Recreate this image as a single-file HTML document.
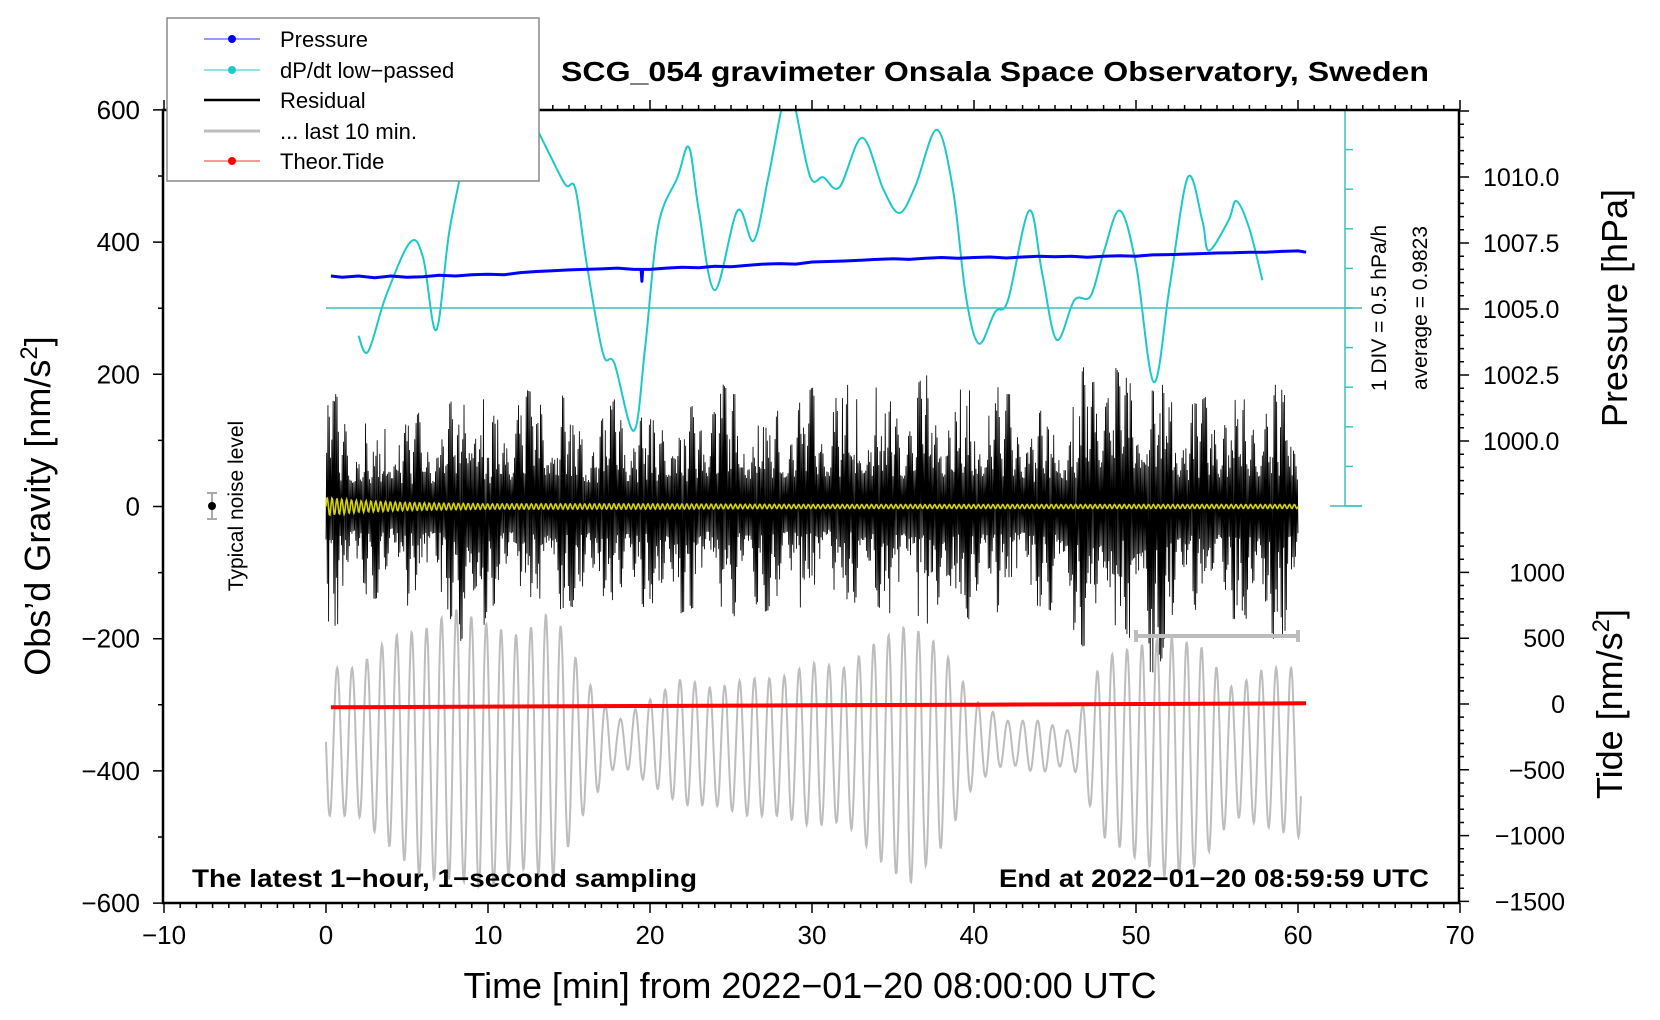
<!DOCTYPE html>
<html><head><meta charset="utf-8"><style>
html,body{margin:0;padding:0;background:#fff;}
svg{display:block;font-family:"Liberation Sans",sans-serif;}
</style></head><body>
<svg id="chart" width="1660" height="1020" viewBox="0 0 1660 1020" xmlns="http://www.w3.org/2000/svg">
<defs><clipPath id="plotclip"><rect x="163" y="110" width="1296" height="793"/></clipPath></defs>
<rect x="0" y="0" width="1660" height="1020" fill="#fff"/>
<g id="series" clip-path="url(#plotclip)"></g>
<g id="axes"></g>
<g id="labels"></g>
</svg>
<script>
// ---- data ----
var gridMinutes = [0,2,4,6,8,10,12,14,16,18,20,22,24,26,28,30,32,34,36,38,40,42,44,46,48,50,52,54,56,58,60];
var grayTop = [-244,-244,-196,-187,-155,-179,-196,-155,-260,-324,-292,-260,-276,-260,-260,-236,-244,-204,-179,-212,-292,-324,-324,-340,-228,-212,-196,-212,-276,-244,-244];
var grayBottom = [-468,-468,-516,-564,-564,-580,-548,-564,-460,-388,-420,-452,-452,-468,-468,-484,-476,-532,-572,-516,-420,-388,-404,-388,-500,-532,-564,-540,-468,-484,-500];
var residMinutes = [0,1,2,3,4,5,6,7,8,9,10,11,12,13,14,15,16,17,18,19,20,21,22,23,24,25,26,27,28,29,30,31,32,33,34,35,36,37,38,39,40,41,42,43,44,45,46,47,48,49,50,51,52,53,54,55,56,57,58,59,60];
var residUpper = [200,150,130,120,170,120,150,130,170,270,130,150,180,170,190,170,150,130,170,140,130,180,140,160,200,170,170,150,170,150,180,170,180,200,180,170,170,200,180,190,170,190,170,170,140,180,150,230,240,200,230,190,240,150,160,180,160,170,190,180,150];
var residLower = [-200,-170,-130,-140,-130,-150,-150,-150,-180,-270,-150,-150,-150,-160,-160,-150,-160,-160,-150,-170,-140,-180,-160,-150,-150,-170,-150,-160,-150,-150,-160,-140,-140,-170,-150,-170,-160,-170,-230,-150,-180,-160,-160,-150,-150,-160,-190,-220,-240,-200,-230,-260,-210,-170,-150,-170,-170,-170,-200,-200,-160];
var dpdtMinutes = [2.0,2.6,3.7,5.2,6.0,6.8,7.6,8.5,9.3,10.5,11.5,12.5,13.9,14.8,15.4,16.1,17.1,17.8,19.0,19.7,20.5,21.7,22.4,23.0,24.0,25.4,26.4,27.3,28.1,28.6,29.0,29.9,30.7,31.7,33.1,34.4,35.4,36.4,37.7,38.7,39.5,40.3,41.3,42.1,43.4,44.2,45.1,46.2,47.2,48.0,49.0,50.0,51.1,52.1,53.2,54.1,54.5,55.7,56.2,57.0,57.8];
var dpdtDiv = [-0.7,-1.1,0.3,1.66,1.26,-0.56,1.9,3.8,6.0,6.6,6.2,5.0,3.8,3.1,3.0,1.1,-1.15,-1.4,-3.1,-1.0,2.06,3.3,4.06,2.5,0.45,2.46,1.7,3.3,5.0,5.8,5.0,3.3,3.3,3.05,4.3,3.0,2.4,3.1,4.5,3.0,0.3,-0.9,-0.1,0.2,2.46,0.9,-0.8,0.2,0.3,1.4,2.46,1.1,-1.87,0.6,3.3,2.2,1.45,2.2,2.7,2.0,0.7];
var pressMinutes = [0.3,1,2,3,4,5,6,7,8,9,10,11,12,13,14,15,16,17,18,19,19.45,19.5,19.55,20,21,22,23,24,25,26,27,28,29,30,31,32,33,34,35,36,37,38,39,40,41,42,43,44,45,46,47,48,49,50,51,52,53,54,55,56,57,58,59,60,60.5];
var pressHpa = [1006.25,1006.2,1006.25,1006.18,1006.25,1006.2,1006.22,1006.28,1006.25,1006.3,1006.32,1006.3,1006.38,1006.42,1006.45,1006.48,1006.5,1006.52,1006.55,1006.5,1006.5,1006.05,1006.5,1006.5,1006.55,1006.58,1006.56,1006.62,1006.6,1006.65,1006.7,1006.72,1006.7,1006.78,1006.8,1006.82,1006.85,1006.88,1006.9,1006.88,1006.92,1006.95,1006.92,1006.95,1006.97,1006.93,1006.97,1007.0,1006.98,1007.0,1006.96,1007.0,1007.02,1007.0,1007.05,1007.06,1007.08,1007.1,1007.12,1007.13,1007.15,1007.15,1007.18,1007.2,1007.15];
var tideMinutes = [0.3,10,20,30,40,50,60.5];
var tideValues = [-25,-20,-15,-10,-5,0,5];
var yellowMinutes = [0,2,5,10,20,30,40,50,58,60];
var yellowAmp = [14,9,6,4,4,3,3,3,3,3];
var xTicks = [-10,0,10,20,30,40,50,60,70];
var yTicks = [600,400,200,0,-200,-400,-600];
var pressTicks = ["1010.0","1007.5","1005.0","1002.5","1000.0"];
var tideTicks = [1000,500,0,-500,-1000,-1500];

// ---- scales ----
function X(t){return 326+t*16.2;}
function Y(v){return 506.5-v*0.661;}
function YP(p){return 177+(1010-p)*26.4;}
function YT(v){return 704-v*0.1316;}
function YC(d){return 308-d*39.6;}
var NS="http://www.w3.org/2000/svg";
function mk(tag,attrs,parent){var e=document.createElementNS(NS,tag);for(var k in attrs)e.setAttribute(k,attrs[k]);parent.appendChild(e);return e;}
function interp(xs,ys,t){if(t<=xs[0])return ys[0];for(var i=1;i<xs.length;i++){if(t<=xs[i]){var f=(t-xs[i-1])/(xs[i]-xs[i-1]);return ys[i-1]+f*(ys[i]-ys[i-1]);}}return ys[ys.length-1];}
var S=document.getElementById('series'),A=document.getElementById('axes'),L=document.getElementById('labels');

// gray last 10 min
var d="";for(var t=0;t<=60.2;t+=0.03){var tp=interp(gridMinutes,grayTop,t),bt=interp(gridMinutes,grayBottom,t);var c=(tp+bt)/2,a=(tp-bt)/2;var v=c-a*Math.sin(2*Math.PI*t/0.92);d+=(d?"L":"M")+X(t).toFixed(1)+" "+Y(v).toFixed(1);}
var g=mk('path',{d:d,fill:'none',stroke:'#bdbdbd','stroke-width':2},S);



// residual black
d="";var k=0;for(var t=0;t<=60.0;t+=1/25){var up=interp(residMinutes,residUpper,t),lo=interp(residMinutes,residLower,t);var q=Math.abs(Math.sin(k*2.13+Math.sin(k*0.29)*3)*Math.sin(k*0.0517+1)*Math.cos(k*0.1931+Math.sin(k*0.013)));var f=0.2+0.8*Math.pow(q,0.9);var v=(k%2?up:lo)*Math.min(1,f*1.25);d+=(d?"L":"M")+X(t).toFixed(2)+" "+Y(v).toFixed(1);k++;}
var r=mk('path',{d:d,fill:'none',stroke:'#000','stroke-width':0.85},S);



// yellow
d="";for(var t=0;t<=60;t+=0.04){var a=interp(yellowMinutes,yellowAmp,t);var v=a*Math.sin(2*Math.PI*t/0.3);d+=(d?"L":"M")+X(t).toFixed(1)+" "+Y(v).toFixed(1);}
var yl=mk('path',{d:d,fill:'none',stroke:'#d4d400','stroke-width':1.6},S);



// red tide
d="";for(var i=0;i<tideMinutes.length;i++)d+=(i?"L":"M")+X(tideMinutes[i]).toFixed(1)+" "+YT(tideValues[i]).toFixed(1);
var rt=mk('path',{d:d,fill:'none',stroke:'#ff0000','stroke-width':4},S);



// cyan zero line & curve
var cz=mk('line',{x1:326,y1:YC(0),x2:1362,y2:YC(0),stroke:'#3cc0c0','stroke-width':1.5},A);


var pts=dpdtMinutes.map(function(t,i){return [X(t),YC(dpdtDiv[i])];});
d="M"+pts[0][0]+" "+pts[0][1];
for(var i=0;i<pts.length-1;i++){var p0=pts[Math.max(0,i-1)],p1=pts[i],p2=pts[i+1],p3=pts[Math.min(pts.length-1,i+2)];
d+="C"+(p1[0]+(p2[0]-p0[0])/6).toFixed(1)+" "+(p1[1]+(p2[1]-p0[1])/6).toFixed(1)+" "+(p2[0]-(p3[0]-p1[0])/6).toFixed(1)+" "+(p2[1]-(p3[1]-p1[1])/6).toFixed(1)+" "+p2[0].toFixed(1)+" "+p2[1].toFixed(1);}
var cy=mk('path',{d:d,fill:'none',stroke:'#1cc8c8','stroke-width':2},S);



// pressure blue
d="";for(var i=0;i<pressMinutes.length;i++)d+=(i?"L":"M")+X(pressMinutes[i]).toFixed(1)+" "+YP(pressHpa[i]).toFixed(1);
var pb=mk('path',{d:d,fill:'none',stroke:'#0000ff','stroke-width':3,'stroke-linejoin':'round'},S);



// last-10 indicator bar
var bar=mk('path',{d:"M"+X(50)+" 636H"+X(60)+"M"+X(50)+" 630V642M"+X(60)+" 630V642",stroke:'#bdbdbd','stroke-width':4,fill:'none'},A);



// cyan axis
var ca=mk('line',{x1:1345,y1:110,x2:1345,y2:506,stroke:'#3cc0c0','stroke-width':1.5},A);


for(var i=-5;i<=5;i++){var tk=mk('line',{x1:1345,y1:YC(i),x2:i==-5?1362:1353,y2:YC(i),stroke:'#3cc0c0','stroke-width':1.5},A);

}
mk('line',{x1:1330,y1:506,x2:1362,y2:506,stroke:'#3cc0c0','stroke-width':1.5},A);

// frame
var fr=mk('rect',{x:163,y:110,width:1296,height:793,fill:'none',stroke:'#000','stroke-width':2.5},A);


var td="";
for(var t=-10;t<=70;t++){var len=(t%10==0)?10:5;td+="M"+X(t)+" 903v"+len+"M"+X(t)+" 110v"+(-len);}
for(var v=-600;v<=600;v+=100){td+="M163 "+Y(v)+"h"+(v%200==0?-10:-5);}
for(var p=997.5;p<=1012.5;p+=0.5){var yy=YP(p);if(yy<110||yy>506)continue;td+="M1459 "+yy+"h"+(Math.abs(p*2%5)<0.01?10:5);}
for(var tv=-1500;tv<=1300;tv+=100){td+="M1459 "+YT(tv)+"h"+(tv%500==0?10:5);}
mk('path',{d:td,stroke:'#000','stroke-width':1.5,fill:'none'},A);

function txt(s,x,y,size,opts,name){var e=mk('text',{x:x,y:y,'font-size':size,fill:'#000'},L);for(var k in opts)e.setAttribute(k,opts[k]);e.textContent=s;return e;}
xTicks.forEach(function(t){txt(String(t).replace('-','\u2212'),X(t),944,26,{'text-anchor':'middle'},'x-tick-label');});
yTicks.forEach(function(v){txt(String(v).replace('-','\u2212'),140,Y(v)+9,26,{'text-anchor':'end'},'y-tick-label');});
pressTicks.forEach(function(p){txt(p,1483,YP(parseFloat(p))+9,25,{},'pressure-tick-label');});
tideTicks.forEach(function(v){txt(String(v).replace('-','\u2212'),1565,YT(v)+9,25,{'text-anchor':'end'},'tide-tick-label');});

// noise level
mk('path',{d:"M212 493V519M207 493h10M207 519h10",stroke:'#aaa','stroke-width':2,fill:'none'},A);
var nd=mk('circle',{cx:212,cy:506,r:4,fill:'#000'},A);


</script>
<!-- static text -->
<svg style="position:absolute;left:0;top:0" width="1660" height="1020" viewBox="0 0 1660 1020" xmlns="http://www.w3.org/2000/svg" font-family="Liberation Sans, sans-serif">
<text x="995" y="81" font-size="28" font-weight="bold" text-anchor="middle" textLength="868" lengthAdjust="spacingAndGlyphs">SCG_054 gravimeter Onsala Space Observatory, Sweden</text>
<text x="192" y="887" font-size="25" font-weight="bold" textLength="505" lengthAdjust="spacingAndGlyphs">The latest 1−hour, 1−second sampling</text>
<text x="1429" y="887" font-size="25" font-weight="bold" text-anchor="end" textLength="430" lengthAdjust="spacingAndGlyphs">End at 2022−01−20 08:59:59 UTC</text>
<text x="810" y="998" font-size="36" text-anchor="middle" textLength="693" lengthAdjust="spacingAndGlyphs">Time [min] from 2022−01−20 08:00:00 UTC</text>
<text transform="translate(50,506) rotate(-90)" font-size="36" text-anchor="middle">Obs’d Gravity [nm/s<tspan baseline-shift="super" font-size="24">2</tspan>]</text>
<text transform="translate(1627,308) rotate(-90)" font-size="36" text-anchor="middle">Pressure [hPa]</text>
<text transform="translate(1622,704) rotate(-90)" font-size="36" text-anchor="middle">Tide [nm/s<tspan baseline-shift="super" font-size="24">2</tspan>]</text>
<text transform="translate(1386,308) rotate(-90)" font-size="21" text-anchor="middle">1 DIV = 0.5 hPa/h</text>
<text transform="translate(1427,308) rotate(-90)" font-size="21" text-anchor="middle">average = 0.9823</text>
<text transform="translate(243,506) rotate(-90)" font-size="21" text-anchor="middle">Typical noise level</text>
<g>
<rect x="167" y="18" width="372" height="163" fill="#fff" stroke="#888" stroke-width="1.5"/>
<g><line x1="204" y1="39" x2="260" y2="39" stroke="#3333ff" stroke-width="1"/><circle cx="232" cy="39" r="4" fill="#0000ff"/><text x="280" y="47" font-size="22">Pressure</text></g>
<g><line x1="204" y1="70" x2="260" y2="70" stroke="#1cc8c8" stroke-width="1"/><circle cx="232" cy="70" r="4" fill="#1cc8c8"/><text x="280" y="78" font-size="22">dP/dt low−passed</text></g>
<g><line x1="204" y1="100" x2="260" y2="100" stroke="#000" stroke-width="2.5"/><text x="280" y="108" font-size="22">Residual</text></g>
<g><line x1="204" y1="131" x2="260" y2="131" stroke="#bdbdbd" stroke-width="3"/><text x="280" y="139" font-size="22">... last 10 min.</text></g>
<g><line x1="204" y1="161" x2="260" y2="161" stroke="#ff3333" stroke-width="1"/><circle cx="232" cy="161" r="4" fill="#ff0000"/><text x="280" y="169" font-size="22">Theor.Tide</text></g>
</g>
</svg>
</body></html>
